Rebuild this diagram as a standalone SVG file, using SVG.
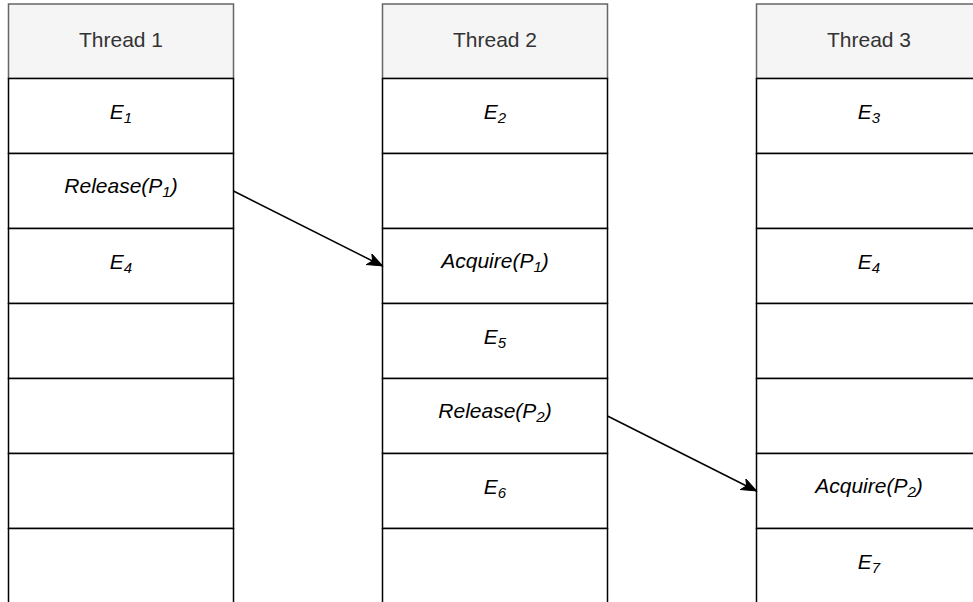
<svg xmlns="http://www.w3.org/2000/svg" width="973" height="602" viewBox="0 0 973 602">
<style>
.hdr{fill:#f5f5f5;stroke:#666666;stroke-width:1.5}
.cell{fill:#ffffff;stroke:#000000;stroke-width:1.5}
.ht{font-family:"Liberation Sans",Arial,sans-serif;font-size:21px;fill:#333333;text-anchor:middle}
.ct{font-family:"Liberation Sans",Arial,sans-serif;font-size:21px;font-style:italic;fill:#000000;text-anchor:middle}
.sub{font-size:15px}
.conn{stroke:#000000;stroke-width:1.5;fill:none}
</style>
<defs>
<marker id="arr" markerUnits="userSpaceOnUse" markerWidth="18" markerHeight="14" refX="15" refY="6" orient="auto">
<path d="M0,0 L15,6 L0,12 L4,6 Z" fill="#000000" stroke="#000000" stroke-width="1"/>
</marker>
</defs>
<rect width="973" height="602" fill="#ffffff"/>
<g id="thread1">
<rect class="hdr" x="8.5" y="4" width="225" height="74.5"/>
<text class="ht" x="121" y="47">Thread 1</text>
<rect class="cell" x="8.5" y="78.5" width="225" height="75"/>
<rect class="cell" x="8.5" y="153.5" width="225" height="75"/>
<rect class="cell" x="8.5" y="228.5" width="225" height="75"/>
<rect class="cell" x="8.5" y="303.5" width="225" height="75"/>
<rect class="cell" x="8.5" y="378.5" width="225" height="75"/>
<rect class="cell" x="8.5" y="453.5" width="225" height="75"/>
<rect class="cell" x="8.5" y="528.5" width="225" height="75"/>
<text class="ct" x="121" y="119">E<tspan class="sub" dy="4">1</tspan></text>
<text class="ct" x="121" y="193">Release(P<tspan class="sub" dy="4">1</tspan><tspan dy="-4">)</tspan></text>
<text class="ct" x="121" y="269">E<tspan class="sub" dy="4">4</tspan></text>
</g>
<g id="thread2">
<rect class="hdr" x="382.5" y="4" width="225" height="74.5"/>
<text class="ht" x="495" y="47">Thread 2</text>
<rect class="cell" x="382.5" y="78.5" width="225" height="75"/>
<rect class="cell" x="382.5" y="153.5" width="225" height="75"/>
<rect class="cell" x="382.5" y="228.5" width="225" height="75"/>
<rect class="cell" x="382.5" y="303.5" width="225" height="75"/>
<rect class="cell" x="382.5" y="378.5" width="225" height="75"/>
<rect class="cell" x="382.5" y="453.5" width="225" height="75"/>
<rect class="cell" x="382.5" y="528.5" width="225" height="75"/>
<text class="ct" x="495" y="119">E<tspan class="sub" dy="4">2</tspan></text>
<text class="ct" x="495" y="268">Acquire(P<tspan class="sub" dy="4">1</tspan><tspan dy="-4">)</tspan></text>
<text class="ct" x="495" y="344">E<tspan class="sub" dy="4">5</tspan></text>
<text class="ct" x="495" y="418">Release(P<tspan class="sub" dy="4">2</tspan><tspan dy="-4">)</tspan></text>
<text class="ct" x="495" y="494">E<tspan class="sub" dy="4">6</tspan></text>
</g>
<g id="thread3">
<rect class="hdr" x="756.5" y="4" width="225" height="74.5"/>
<text class="ht" x="869" y="47">Thread 3</text>
<rect class="cell" x="756.5" y="78.5" width="225" height="75"/>
<rect class="cell" x="756.5" y="153.5" width="225" height="75"/>
<rect class="cell" x="756.5" y="228.5" width="225" height="75"/>
<rect class="cell" x="756.5" y="303.5" width="225" height="75"/>
<rect class="cell" x="756.5" y="378.5" width="225" height="75"/>
<rect class="cell" x="756.5" y="453.5" width="225" height="75"/>
<rect class="cell" x="756.5" y="528.5" width="225" height="75"/>
<text class="ct" x="869" y="119">E<tspan class="sub" dy="4">3</tspan></text>
<text class="ct" x="869" y="269">E<tspan class="sub" dy="4">4</tspan></text>
<text class="ct" x="869" y="493">Acquire(P<tspan class="sub" dy="4">2</tspan><tspan dy="-4">)</tspan></text>
<text class="ct" x="869" y="569">E<tspan class="sub" dy="4">7</tspan></text>
</g>
<g id="connectors">
<line class="conn" x1="233.5" y1="191" x2="382.5" y2="266" marker-end="url(#arr)"/>
<line class="conn" x1="607.5" y1="416" x2="756.5" y2="491" marker-end="url(#arr)"/>
</g>
</svg>
